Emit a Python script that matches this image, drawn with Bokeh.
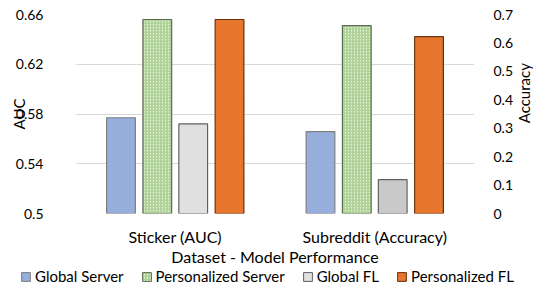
import math
from bokeh.plotting import figure
from bokeh.layouts import column, row
from bokeh.models import (FactorRange, Range1d, LinearAxis, FixedTicker, Legend, LegendItem,
                          ColumnDataSource, Label)
from bokeh.transform import dodge
from bokeh.embed import file_html
from bokeh.resources import INLINE

categories = ["Sticker (AUC)", "Subreddit (Accuracy)"]
series = ["Global Server", "Personalized Server", "Global FL", "Personalized FL"]
sticker_auc = [0.577, 0.656, 0.572, 0.656]
subreddit_acc = [0.288, 0.661, 0.119, 0.622]
auc_ticks = [0.5, 0.54, 0.58, 0.62, 0.66]
auc_tick_labels = ["0.5", "0.54", "0.58", "0.62", "0.66"]
acc_ticks = [0, 0.1, 0.2, 0.3, 0.4, 0.5, 0.6, 0.7]
acc_tick_labels = ["0", "0.1", "0.2", "0.3", "0.4", "0.5", "0.6", "0.7"]

FONT = "Lato"
offsets = [-0.272, -0.09, 0.09, 0.272]
bar_w = 0.144
styles = [
    dict(fill_color="#9cb3df", line_color="#7f7f7f", hatch_pattern="right_diagonal_line",
         hatch_color="#91a9d8", hatch_scale=4, hatch_weight=1),
    dict(fill_color="#e6f2de", line_color="#5b6b52", hatch_pattern="right_diagonal_line",
         hatch_color="#a8cf8e", hatch_scale=3, hatch_weight=1.2),
    dict(fill_color="#e0e0e0", line_color="#606060"),
    dict(fill_color="#ed7d31", line_color="#6b3210", hatch_pattern="right_diagonal_line",
         hatch_color="#e3712a", hatch_scale=2.5, hatch_weight=1),
]
subreddit_fill = ["#9cb3df", "#e6f2de", "#c9c9c9", "#ed7d31"]

MAIN_H = 268
MAIN_W = 516
# ---------------- main chart ----------------
p = figure(width=MAIN_W, height=MAIN_H, x_range=FactorRange(*categories),
           y_range=Range1d(0.5, 0.66), output_backend="svg", toolbar_location=None)
p.extra_y_ranges = {"acc": Range1d(0, 0.7)}
p.min_border_left = 75
p.min_border_right = 38
p.min_border_top = 14
p.min_border_bottom = 55
p.outline_line_color = None
p.background_fill_color = "white"

for i, name in enumerate(series):
    s1 = ColumnDataSource(dict(cat=[categories[0]], top=[sticker_auc[i]]))
    p.vbar(x=dodge("cat", offsets[i], range=p.x_range), top="top", bottom=0.5,
           width=bar_w, source=s1, line_width=1.2, **styles[i])
    st2 = dict(styles[i])
    st2["fill_color"] = subreddit_fill[i]
    s2 = ColumnDataSource(dict(cat=[categories[1]], top=[subreddit_acc[i]]))
    p.vbar(x=dodge("cat", offsets[i], range=p.x_range), top="top", bottom=0,
           width=bar_w, source=s2, y_range_name="acc", line_width=1.2, **st2)

p.xgrid.grid_line_color = None
p.ygrid.grid_line_color = "#d9d9d9"
p.ygrid.ticker = FixedTicker(ticks=auc_ticks)

for ax in [p.xaxis[0], p.yaxis[0]]:
    ax.axis_line_color = None
    ax.major_tick_line_color = None
    ax.minor_tick_line_color = None

p.yaxis[0].ticker = FixedTicker(ticks=auc_ticks)
p.yaxis[0].major_label_overrides = {t: l for t, l in zip(auc_ticks, auc_tick_labels)}
p.yaxis[0].axis_label = "AUC"

right = LinearAxis(y_range_name="acc", ticker=FixedTicker(ticks=acc_ticks))
right.major_label_overrides = {t: l for t, l in zip(acc_ticks, acc_tick_labels)}
right.axis_line_color = None
right.major_tick_line_color = None
right.minor_tick_line_color = None
p.add_layout(right, "right")

for ax in [p.xaxis[0], p.yaxis[0], right]:
    ax.major_label_text_font = FONT
    ax.major_label_text_font_size = "14px"
    ax.major_label_text_color = "#000000"
    ax.axis_label_text_font = FONT
    ax.axis_label_text_font_size = "15px"
    ax.axis_label_text_font_style = "normal"
    ax.axis_label_text_color = "#000000"

p.xaxis[0].axis_label = "Dataset - Model Performance"
p.xaxis[0].major_label_text_font_size = "16px"
p.xaxis[0].axis_label_text_font_size = "16px"
p.xaxis[0].major_label_standoff = 7
p.xaxis[0].axis_label_standoff = -2
p.yaxis[0].major_label_standoff = 26
p.yaxis[0].axis_label_standoff = -15
right.major_label_standoff = 13

# ---------------- right axis title ----------------
RW = 533 - MAIN_W
pr = figure(width=RW, height=MAIN_H, x_range=Range1d(0, RW), y_range=Range1d(0, MAIN_H),
            output_backend="svg", toolbar_location=None,
            x_axis_location=None, y_axis_location=None, min_border=0)
pr.outline_line_color = None
pr.grid.visible = False
pr.add_layout(Label(x=7.5, y=MAIN_H - 106, text="Accuracy", angle=math.pi / 2,
                    text_align="center", text_baseline="middle",
                    text_font=FONT, text_font_size="15px", text_color="#000000"))

# ---------------- legend strip ----------------
pl = figure(width=533, height=288 - MAIN_H, x_range=Range1d(0, 1), y_range=Range1d(0, 1),
            output_backend="svg", toolbar_location=None,
            x_axis_location=None, y_axis_location=None, min_border=0)
pl.outline_line_color = None
pl.grid.visible = False
items = []
for i, name in enumerate(series):
    st = dict(styles[i])
    # placeholder bar kept outside the strip's visible range; only its legend swatch shows
    src = ColumnDataSource(dict(x=[-1.0], top=[0.0]))
    r = pl.vbar(x="x", top="top", width=0.1, source=src, line_width=1, **st)
    items.append(LegendItem(label=name, renderers=[r]))
legend = Legend(items=items, orientation="horizontal", location=(20, 3),
                label_text_font=FONT, label_text_font_size="15px", label_text_color="#000000",
                glyph_width=11, glyph_height=11, label_standoff=4, spacing=17,
                padding=0, margin=0, border_line_color=None, background_fill_alpha=0,
                label_height=14)
pl.add_layout(legend, "center")

layout = column(row(p, pr, spacing=0), pl, spacing=0)
open("out.html", "w").write(file_html(layout, INLINE))
